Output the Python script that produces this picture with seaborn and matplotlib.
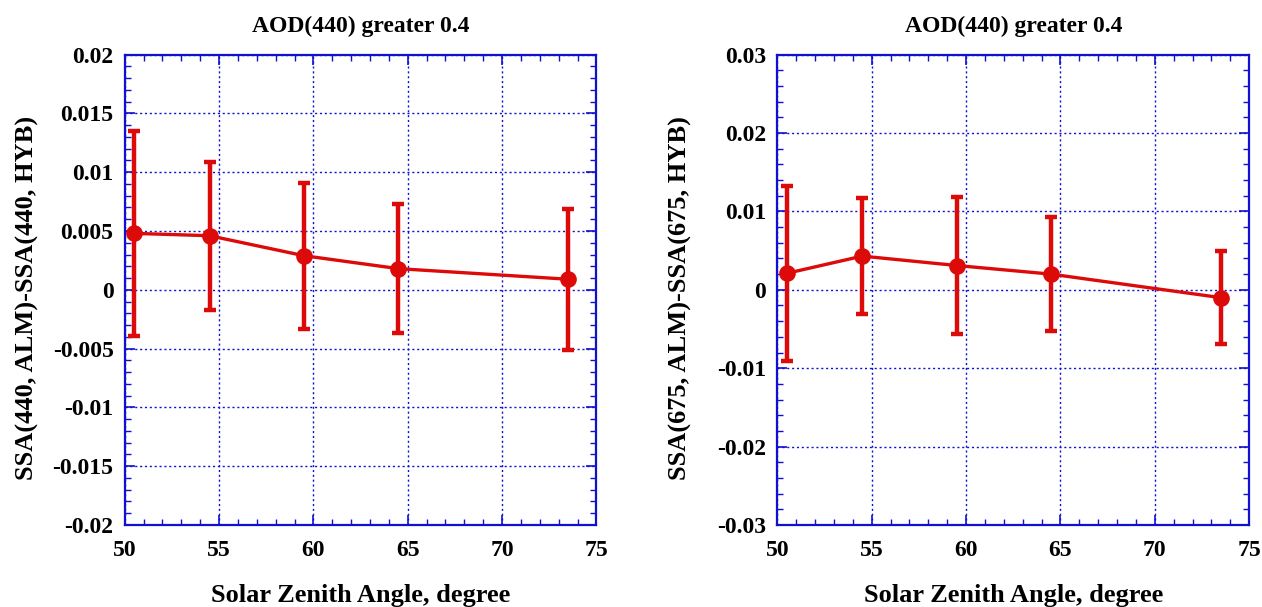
import matplotlib
matplotlib.use("Agg")
import matplotlib.pyplot as plt
from matplotlib.ticker import MultipleLocator, FormatStrFormatter
import numpy as np
import pandas as pd
import seaborn as sns

# Solar zenith angle bins (degrees)
sza = [50.5, 54.5, 59.5, 64.5, 73.5]

# SSA difference ALM - HYB at 440 nm and its standard deviation
ssa440_diff = [0.0048, 0.0046, 0.0029, 0.0018, 0.0009]
ssa440_std = [0.0087, 0.0063, 0.0062, 0.0055, 0.0060]

# SSA difference ALM - HYB at 675 nm and its standard deviation
ssa675_diff = [0.0021, 0.0043, 0.0031, 0.0020, -0.0010]
ssa675_std = [0.0112, 0.0074, 0.0087, 0.0073, 0.0059]

title_text = "AOD(440) greater 0.4"
xlabel_text = "Solar Zenith Angle, degree"
ylabels = ["SSA(440, ALM)-SSA(440, HYB)", "SSA(675, ALM)-SSA(675, HYB)"]

sns.set_theme(style="white")
plt.rcParams["font.family"] = ["Liberation Serif", "DejaVu Serif"]
plt.rcParams["font.weight"] = "bold"
plt.rcParams["text.color"] = "black"
plt.rcParams["axes.labelcolor"] = "black"
plt.rcParams["xtick.labelcolor"] = "black"
plt.rcParams["ytick.labelcolor"] = "black"

RED = "#dd0a0a"
BLUE = "#1010d0"

fig = plt.figure(figsize=(12.62, 6.07), dpi=100)
axes = [
    fig.add_axes([0.0988, 0.1351, 0.3738, 0.7749]),
    fig.add_axes([0.6159, 0.1351, 0.3740, 0.7749]),
]

panels = [
    (ssa440_diff, ssa440_std, (-0.02, 0.02), 0.005, 0.001, "%g"),
    (ssa675_diff, ssa675_std, (-0.03, 0.03), 0.01, 0.002, "%g"),
]

for ax, (vals, errs, ylim, major, minor, fmt), ylab in zip(axes, panels, ylabels):
    df = pd.DataFrame({"sza": sza, "diff": vals, "std": errs})
    ax.errorbar(df["sza"], df["diff"], yerr=df["std"], fmt="none",
                ecolor=RED, elinewidth=3.2, capsize=4, capthick=3.2, zorder=3)
    sns.lineplot(data=df, x="sza", y="diff", ax=ax, color=RED, linewidth=2.4,
                 marker="o", markersize=12, markeredgecolor=RED,
                 markeredgewidth=0, zorder=4)

    ax.set_xlim(50, 75)
    ax.set_ylim(*ylim)
    ax.xaxis.set_major_locator(MultipleLocator(5))
    ax.xaxis.set_minor_locator(MultipleLocator(1))
    ax.yaxis.set_major_locator(MultipleLocator(major))
    ax.yaxis.set_minor_locator(MultipleLocator(minor))
    ax.yaxis.set_major_formatter(FormatStrFormatter(fmt))

    ax.grid(True, which="major", color=BLUE, linestyle=(0, (1.5, 2.0)),
            linewidth=1.0)
    for s in ax.spines.values():
        s.set_color(BLUE)
        s.set_linewidth(1.6)
    ax.tick_params(which="both", direction="in", top=True, right=True,
                   bottom=True, left=True, color=BLUE)
    ax.tick_params(which="major", length=7, width=1.2, labelsize=17)
    ax.tick_params(axis="x", which="major", pad=11)
    ax.tick_params(axis="y", which="major", pad=8)
    ax.tick_params(which="minor", length=4, width=1.0)
    for lab in ax.get_xticklabels() + ax.get_yticklabels():
        lab.set_fontweight("bold")

    ax.set_title(title_text, fontsize=17, fontweight="bold", pad=16,
                 color="black")
    ax.set_xlabel(xlabel_text, fontsize=19, fontweight="bold")
    ax.xaxis.label.set_verticalalignment("baseline")
    ax.xaxis.set_label_coords(0.5, -0.163)
    ax.set_ylabel(ylab, fontsize=19, fontweight="bold")
    ax.yaxis.label.set_verticalalignment("center")
    ax.yaxis.set_label_coords(-0.206, 0.483)

fig.savefig("out.png", dpi=100)
